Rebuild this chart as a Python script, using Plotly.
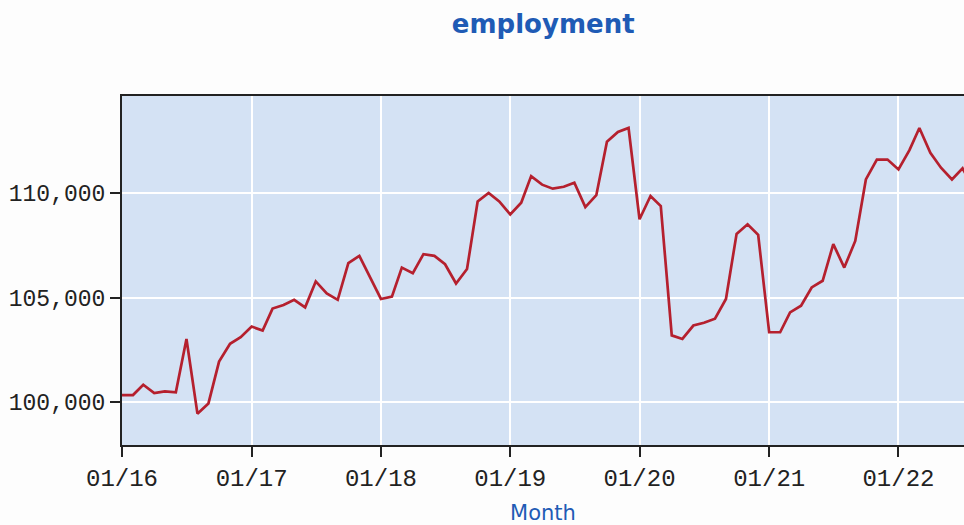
import pandas as pd
import plotly.graph_objects as go

months = pd.date_range("2016-01-01", periods=80, freq="MS")
employment = [
    100350, 100350, 100840, 100440, 100520, 100480, 103030, 99460, 99950, 101950, 102800, 103110,
    103620, 103430, 104480, 104650, 104900, 104540, 105780, 105200, 104900, 106650, 107000, 106000,
    104940, 105050, 106440, 106170, 107080, 107000, 106600, 105680, 106370, 109600, 110010, 109600,
    108980, 109540, 110810, 110400, 110210, 110300, 110490, 109330, 109900, 112450, 112920, 113110,
    108750, 109860, 109380, 103200, 103030, 103670, 103800, 104000, 104940, 108050, 108510, 108000,
    103350, 103350, 104300, 104620, 105490, 105810, 107560, 106440, 107710, 110650, 111600, 111600,
    111130, 112050, 113110, 111920, 111210, 110650, 111180, 110200,
]
y_ticks = [100000, 105000, 110000]

fig = go.Figure()
fig.add_trace(go.Scatter(
    x=months, y=employment, mode="lines",
    line=dict(color="#b5202e", width=2.7),
    showlegend=False,
))

mono_y = dict(family="Liberation Mono, Courier New, monospace", size=23, color="#222222")
mono_x = dict(family="Liberation Mono, Courier New, monospace", size=24, color="#222222")
blue = "#1f5bb5"

fig.update_layout(
    width=964, height=525,
    margin=dict(l=122, r=0, t=96, b=80, autoexpand=False),
    paper_bgcolor="#fdfdfd",
    plot_bgcolor="#d4e2f4",
    title=dict(text="<b>employment</b>", x=0.5635, xanchor="center",
               y=1 - 24 / 525, yanchor="middle", yref="container",
               font=dict(family="DejaVu Sans, Verdana, sans-serif", size=26, color=blue)),
    xaxis=dict(
        range=["2016-01-01", "2022-07-05"],
        tickformat="%m/%y", dtick="M12", tick0="2016-01-01",
        ticks="outside", ticklen=10, tickcolor="#222222", tickwidth=1.5,
        showline=True, linecolor="#222222", linewidth=2, mirror=True,
        showgrid=True, gridcolor="#ffffff", gridwidth=2,
        tickfont=mono_x, zeroline=False,
        title=dict(text="Month", standoff=16,
                   font=dict(family="DejaVu Sans, Verdana, sans-serif", size=21, color=blue)),
    ),
    yaxis=dict(
        range=[97963, 114637],
        tickvals=y_ticks, tickformat=",d",
        ticks="outside", ticklen=10, tickcolor="#222222", tickwidth=1.5,
        showline=True, linecolor="#222222", linewidth=2,
        showgrid=True, gridcolor="#ffffff", gridwidth=2,
        tickfont=mono_y, zeroline=False,
    ),
)

fig.write_html("out.html", config={"displayModeBar": False},
               post_script="document.body.style.margin='0px';")
